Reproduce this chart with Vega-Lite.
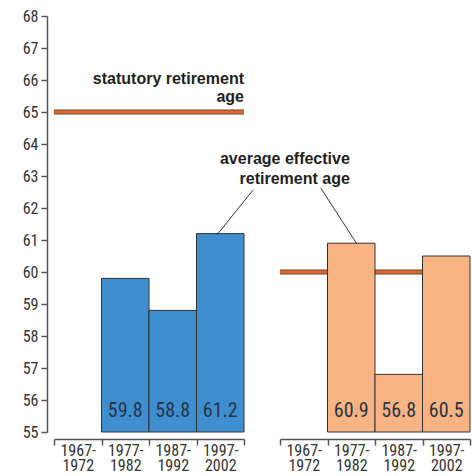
{
  "$schema": "https://vega.github.io/schema/vega-lite/v6.json",
  "padding": {"left": 22, "top": 8, "right": 0, "bottom": 0},
  "spacing": 36,
  "bounds": "flush",
  "config": {
    "view": {"stroke": null},
    "font": "Liberation Sans Narrow, Roboto Condensed, DejaVu Sans Condensed, sans-serif",
    "axis": {
      "labelFont": "Liberation Sans Narrow, Roboto Condensed, DejaVu Sans Condensed, sans-serif",
      "labelFontSize": 16,
      "labelColor": "#333333",
      "labelOverlap": false,
      "domainColor": "#555555",
      "tickColor": "#555555",
      "domainWidth": 1.5,
      "tickWidth": 1.5,
      "title": null,
      "grid": false
    }
  },
  "datasets": {
    "bars": [
      {"panel": "left", "period": "1977-1982", "age": 59.8},
      {"panel": "left", "period": "1987-1992", "age": 58.8},
      {"panel": "left", "period": "1997-2002", "age": 61.2},
      {"panel": "right", "period": "1977-1982", "age": 60.9},
      {"panel": "right", "period": "1987-1992", "age": 56.8},
      {"panel": "right", "period": "1997-2002", "age": 60.5}
    ],
    "statutory": [
      {"panel": "left", "age": 65},
      {"panel": "right", "age": 60}
    ],
    "one": [{}]
  },
  "hconcat": [
    {
      "width": 190,
      "height": 416,
      "layer": [
        {
          "data": {"name": "statutory"},
          "transform": [{"filter": "datum.panel === 'left'"}],
          "mark": {"type": "rule", "stroke": "#5a4a44", "strokeWidth": 5},
          "encoding": {
            "y": {
              "field": "age", "type": "quantitative",
              "scale": {"domain": [55, 68], "nice": false, "zero": false},
              "axis": {"values": [55,56,57,58,59,60,61,62,63,64,65,66,67,68], "tickCount": 30, "format": "d", "offset": 7, "tickSize": 6, "labelPadding": 3, "labelOverlap": false}
            }
          }
        },
        {
          "data": {"name": "statutory"},
          "transform": [{"filter": "datum.panel === 'left'"}],
          "mark": {"type": "rule", "stroke": "#e8641c", "strokeWidth": 3},
          "encoding": {"y": {"field": "age", "type": "quantitative"}}
        },
        {
          "data": {"name": "bars"},
          "transform": [{"filter": "datum.panel === 'left'"}],
          "mark": {"type": "bar", "fill": "#3f8fd0", "stroke": "#333333", "strokeWidth": 1},
          "encoding": {
            "x": {
              "field": "period", "type": "nominal",
              "scale": {"domain": ["1967-1972", "1977-1982", "1987-1992", "1997-2002"], "paddingInner": 0, "paddingOuter": 0},
              "axis": {"offset": 7, "tickBand": "extent", "labelAngle": 0, "tickSize": 6, "labelPadding": -3, "labelLineHeight": 15, "labelOverlap": false,
                "labelExpr": "[slice(datum.label, 0, 5), slice(datum.label, 5)]"}
            },
            "y": {"field": "age", "type": "quantitative"},
            "y2": {"datum": 55}
          }
        },
        {
          "data": {"name": "bars"},
          "transform": [{"filter": "datum.panel === 'left'"}],
          "mark": {"type": "text", "baseline": "alphabetic", "dy": -15, "fontSize": 20, "color": "#263545"},
          "encoding": {
            "x": {"field": "period", "type": "nominal"},
            "y": {"datum": 55},
            "text": {"field": "age", "type": "quantitative", "format": ".1f"}
          }
        },
        {
          "data": {"name": "one"},
          "mark": {"type": "text", "align": "right", "baseline": "alphabetic", "font": "Liberation Sans", "fontWeight": "bold", "fontSize": 16, "color": "#231f20"},
          "encoding": {
            "x": {"datum": "1997-2002", "bandPosition": 1},
            "y": {"datum": 65.875},
            "text": {"value": "statutory retirement"}
          }
        },
        {
          "data": {"name": "one"},
          "mark": {"type": "text", "align": "right", "baseline": "alphabetic", "font": "Liberation Sans", "fontWeight": "bold", "fontSize": 16, "color": "#231f20"},
          "encoding": {
            "x": {"datum": "1997-2002", "bandPosition": 1},
            "y": {"datum": 65.31},
            "text": {"value": "age"}
          }
        },
        {
          "data": {"name": "one"},
          "mark": {"type": "rule", "stroke": "#333333", "strokeWidth": 1},
          "encoding": {
            "x": {"datum": "1997-2002", "bandPosition": 1.19},
            "x2": {"datum": "1997-2002", "bandPosition": 0.43},
            "y": {"datum": 62.56},
            "y2": {"datum": 61.16}
          }
        }
      ]
    },
    {
      "width": 190,
      "height": 416,
      "layer": [
        {
          "data": {"name": "statutory"},
          "transform": [{"filter": "datum.panel === 'right'"}],
          "mark": {"type": "rule", "stroke": "#5a4a44", "strokeWidth": 5},
          "encoding": {
            "y": {
              "field": "age", "type": "quantitative",
              "scale": {"domain": [55, 68], "nice": false, "zero": false},
              "axis": null
            }
          }
        },
        {
          "data": {"name": "statutory"},
          "transform": [{"filter": "datum.panel === 'right'"}],
          "mark": {"type": "rule", "stroke": "#e8641c", "strokeWidth": 3},
          "encoding": {"y": {"field": "age", "type": "quantitative", "axis": null}}
        },
        {
          "data": {"name": "bars"},
          "transform": [{"filter": "datum.panel === 'right'"}],
          "mark": {"type": "bar", "fill": "#f9b383", "stroke": "#333333", "strokeWidth": 1},
          "encoding": {
            "x": {
              "field": "period", "type": "nominal",
              "scale": {"domain": ["1967-1972", "1977-1982", "1987-1992", "1997-2002"], "paddingInner": 0, "paddingOuter": 0},
              "axis": {"offset": 7, "tickBand": "extent", "labelAngle": 0, "tickSize": 6, "labelPadding": -3, "labelLineHeight": 15, "labelOverlap": false,
                "labelExpr": "[slice(datum.label, 0, 5), slice(datum.label, 5)]"}
            },
            "y": {"field": "age", "type": "quantitative", "axis": null},
            "y2": {"datum": 55}
          }
        },
        {
          "data": {"name": "bars"},
          "transform": [{"filter": "datum.panel === 'right'"}],
          "mark": {"type": "text", "baseline": "alphabetic", "dy": -15, "fontSize": 20, "color": "#263545"},
          "encoding": {
            "x": {"field": "period", "type": "nominal"},
            "y": {"datum": 55, "axis": null},
            "text": {"field": "age", "type": "quantitative", "format": ".1f"}
          }
        },
        {
          "data": {"name": "one"},
          "mark": {"type": "text", "align": "right", "baseline": "alphabetic", "font": "Liberation Sans", "fontWeight": "bold", "fontSize": 16, "color": "#231f20"},
          "encoding": {
            "x": {"datum": "1977-1982", "bandPosition": 0.47},
            "y": {"datum": 63.375, "axis": null},
            "text": {"value": "average effective"}
          }
        },
        {
          "data": {"name": "one"},
          "mark": {"type": "text", "align": "right", "baseline": "alphabetic", "font": "Liberation Sans", "fontWeight": "bold", "fontSize": 16, "color": "#231f20"},
          "encoding": {
            "x": {"datum": "1977-1982", "bandPosition": 0.47},
            "y": {"datum": 62.75, "axis": null},
            "text": {"value": "retirement age"}
          }
        },
        {
          "data": {"name": "one"},
          "mark": {"type": "rule", "stroke": "#333333", "strokeWidth": 1},
          "encoding": {
            "x": {"datum": "1967-1972", "bandPosition": 0.86},
            "x2": {"datum": "1977-1982", "bandPosition": 0.62},
            "y": {"datum": 62.62, "axis": null},
            "y2": {"datum": 60.875}
          }
        }
      ]
    }
  ]
}
